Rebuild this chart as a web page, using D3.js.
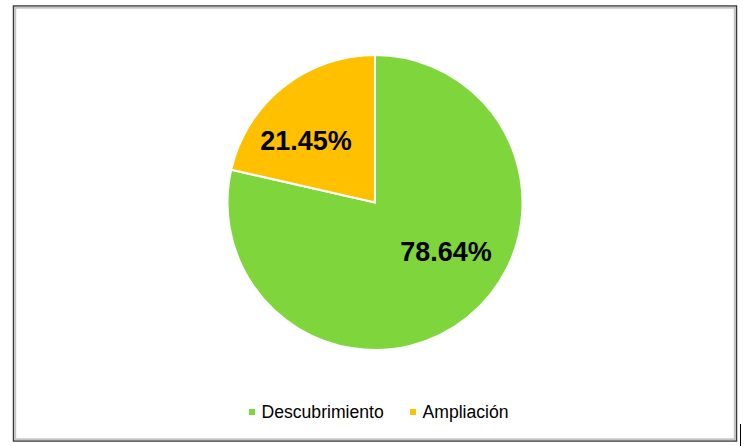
<!DOCTYPE html>
<html><head><meta charset="utf-8">
<script src="https://cdn.jsdelivr.net/npm/d3@7/dist/d3.min.js"></script>
<style>html,body{margin:0;padding:0;background:#fff;}svg{display:block;}</style>
</head><body>
<svg id="chart" width="752" height="446"></svg>
<script>
const categories = ["Descubrimiento", "Ampliación"];
const values = [78.64, 21.45];
const labels = ["78.64%", "21.45%"];
const colors = ["#7ED63C", "#FFC000"];

const layout = {
  cx: 375, cy: 202.5, r: 147.5, labelR: 0.62,
  labelShift: [[14, -22], [-12, 10]]
};

const svg = d3.select("#chart");
const font = "Arial, 'Liberation Sans', sans-serif";

// frame
svg.append("rect").attr("x", 13.5).attr("y", 6).attr("width", 723).attr("height", 435)
  .attr("fill", "#fff").attr("stroke", "#3a3a3a").attr("stroke-width", 1.5);
svg.append("rect").attr("x", 15.2).attr("y", 7.7).attr("width", 719.6).attr("height", 431.6)
  .attr("fill", "none").attr("stroke", "#c4c4c4").attr("stroke-width", 2);
svg.append("line").attr("x1", 740.5).attr("x2", 740.5).attr("y1", 424).attr("y2", 446)
  .attr("stroke", "#000").attr("stroke-width", 1);

const pie = d3.pie().sort(null).value(d => d)(values);
const arc = d3.arc().innerRadius(0).outerRadius(layout.r);
const labelArc = d3.arc().innerRadius(layout.r * layout.labelR).outerRadius(layout.r * layout.labelR);

const g = svg.append("g").attr("transform", `translate(${layout.cx},${layout.cy})`);
g.selectAll("path").data(pie).join("path")
  .attr("d", arc).attr("fill", (d, i) => colors[i])
  .attr("stroke", "#fff").attr("stroke-width", 2);

g.selectAll("text.lbl").data(pie).join("text").attr("class", "lbl")
  .attr("x", (d, i) => labelArc.centroid(d)[0] + layout.labelShift[i][0])
  .attr("y", (d, i) => labelArc.centroid(d)[1] + layout.labelShift[i][1])
  .attr("text-anchor", "middle").attr("dominant-baseline", "central")
  .attr("font-family", font).attr("font-weight", "bold").attr("font-size", 27)
  .attr("fill", "#000").text((d, i) => labels[i]);

// legend
const legendX = [249, 410];
const lg = svg.append("g");
categories.forEach((c, i) => {
  lg.append("rect").attr("x", legendX[i]).attr("y", 409).attr("width", 6).attr("height", 6).attr("fill", colors[i]);
  lg.append("text").attr("x", legendX[i] + 12.5).attr("y", 417.5)
    .attr("font-family", font).attr("font-size", 17.6).attr("fill", "#000").text(c);
});
</script>
</body></html>
